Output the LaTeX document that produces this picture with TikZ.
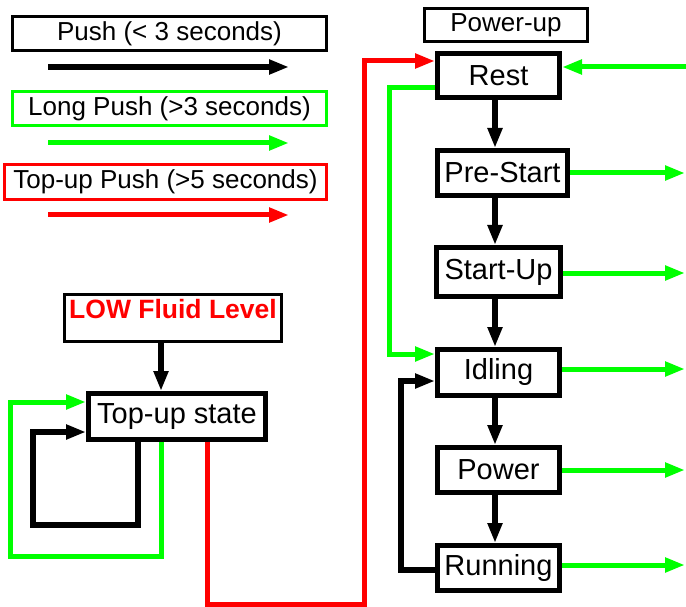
\documentclass[tikz,border=0pt]{standalone}
\usepackage{fontspec}
\setmainfont{Liberation Sans}
\usetikzlibrary{arrows.meta,positioning}
\definecolor{pushGreen}{HTML}{00FF00}
\definecolor{pushRed}{HTML}{FF0000}
\tikzset{
  legendBox/.style={
    draw,
    line width=2.5pt,
    inner sep=0pt,
    minimum width=314pt,
    minimum height=34pt,
    font=\fontsize{26}{30}\selectfont
  },
  stateBox/.style={
    draw,
    line width=5pt,
    fill=white,
    inner sep=0pt,
    minimum width=122pt,
    minimum height=45pt,
    font=\fontsize{29}{33}\selectfont
  },
  pushArrow/.style={-{Triangle[length=20pt,width=14pt]}, line width=6pt, black},
  longArrow/.style={-{Triangle[length=20pt,width=14pt]}, line width=5pt, pushGreen},
  topupArrow/.style={-{Triangle[length=20pt,width=14pt]}, line width=5pt, pushRed}
}
\begin{document}
\begin{tikzpicture}[x=1pt,y=-1pt]
  \useasboundingbox (0,0) rectangle (686,607);
  % legend
  \node[legendBox] (legPush) at (169.5,33.5) {Push (< 3 seconds)};
  \node[legendBox, draw=pushGreen] (legLong) at (169.5,108.5) {Long Push (>3 seconds)};
  \node[legendBox, draw=pushRed, minimum width=322pt, minimum height=35pt]
    (legTopup) at (165.5,182) {Top-up Push (>5 seconds)};
  \foreach \k/\y in {push/67, long/143, topup/215} {
    \coordinate (\k-from) at (48,\y);
    \coordinate (\k-to) at (289,\y);
  }
  \draw[pushArrow] (push-from) -- (push-to);
  \draw[longArrow] (long-from) -- (long-to);
  \draw[topupArrow] (topup-from) -- (topup-to);
  % states
  \node[draw, line width=2.5pt, inner sep=0pt, minimum width=163pt, minimum height=33pt,
    font=\fontsize{26}{30}\selectfont] (powerup) at (506,25) {Power-up};
  \node[stateBox, minimum height=44pt] (rest) at (498.5,75.5) {Rest};
  \node[stateBox, minimum width=130pt] (prestart) at (502.5,173) {Pre-Start};
  \node[stateBox, minimum width=124pt, minimum height=49pt] (startup) at (498.5,272) {Start-Up};
  \node[stateBox, minimum height=46pt] (idling) at (498.5,372.5) {Idling};
  \node[stateBox] (power) at (498.5,470) {Power};
  \node[stateBox] (running) at (498.5,568) {Running};
  \node[draw, line width=2.5pt, inner sep=0pt, minimum width=217pt,
    text height=23.5pt, text depth=23.5pt, text=pushRed,
    font=\fontsize{26.5}{30}\selectfont\bfseries] (low) at (173,318) {LOW Fluid Level};
  \node[stateBox, minimum width=177pt, minimum height=46pt] (topup) at (177,416.5) {Top-up state};
  % main chain
  \coordinate (spine) at (495,0);
  \foreach \a/\b in {rest/prestart, prestart/startup, startup/idling, idling/power, power/running} {
    \draw[pushArrow] (\a.south -| spine) -- (\b.north -| spine);
  }
  % long push exits
  \coordinate (restIn) at (686,67);
  \draw[longArrow] (restIn) -- (rest.east |- restIn);
  \foreach \s/\y in {prestart/173, startup/273, idling/369, power/470, running/565} {
    \coordinate (\s-out) at (685,\y);
    \draw[longArrow] (\s.east |- \s-out) -- (\s-out);
  }
  \draw[longArrow] ([yshift=-12.5pt]rest.west) -- ++(-46,0) |- ([yshift=18.5pt]idling.west);
  \draw[pushArrow] ([yshift=-2pt]running.west) -- ++(-34,0) |- ([yshift=-8.5pt]idling.west);
  % top-up loops
  \draw[pushArrow] ([xshift=-12pt]low.south) -- ([xshift=-16pt]topup.north);
  \draw[pushArrow] ([xshift=-39pt]topup.south) -- ++(0,83) -- ++(-105,0)
    |- ([yshift=-15.5pt]topup.west);
  \draw[longArrow] ([xshift=-16pt]topup.south) -- ++(0,114) -- ++(-151,0)
    |- ([yshift=14.5pt]topup.west);
  \draw[topupArrow] ([xshift=30pt]topup.south) -- ++(0,162) -- ++(157,0)
    |- ([yshift=14.5pt]rest.west);
\end{tikzpicture}
\end{document}
